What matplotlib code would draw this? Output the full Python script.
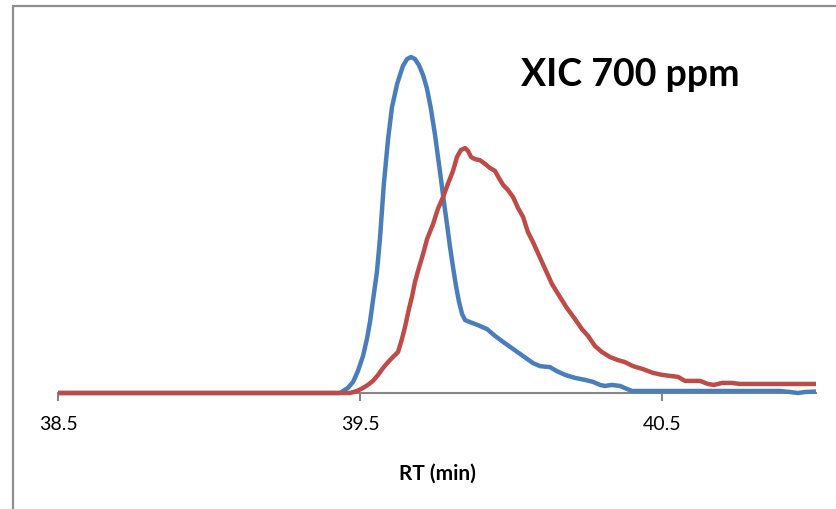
import matplotlib
matplotlib.use("Agg")
import matplotlib.pyplot as plt
from matplotlib.patches import Rectangle

# Extracted ion chromatograms (retention time in minutes, relative intensity)
rt_blue = [38.5, 39.434, 39.444, 39.460, 39.477, 39.493, 39.510, 39.523, 39.533, 39.546,
           39.556, 39.566, 39.579, 39.593, 39.606, 39.623, 39.642, 39.656, 39.669, 39.682,
           39.695, 39.709, 39.722, 39.735, 39.748, 39.765, 39.778, 39.788, 39.798, 39.808,
           39.818, 39.828, 39.838, 39.848, 39.864, 39.891, 39.921, 39.947, 39.974, 40.007,
           40.040, 40.073, 40.096, 40.129, 40.152, 40.179, 40.212, 40.245, 40.272, 40.295,
           40.311, 40.334, 40.361, 40.384, 40.401, 40.626, 40.891, 40.924, 40.950, 40.974,
           41.010]
int_blue = [0, 0, 0.6, 1.5, 3.3, 6.5, 11.0, 16.1, 21.1, 29.5,
            36.0, 45.8, 62.2, 75.6, 85.1, 92.0, 97.3, 99.4, 100, 99.4,
            97.6, 94.6, 90.5, 84.5, 77.1, 65.8, 56.8, 50.3, 43.5, 37.5,
            31.8, 27.1, 23.5, 21.7, 21.1, 20.2, 19.0, 17.0, 15.2, 13.1,
            11.0, 8.9, 8.0, 7.7, 6.5, 5.4, 4.5, 3.9, 3.3, 2.4,
            2.1, 2.4, 2.1, 1.2, 0.6, 0.6, 0.6, 0.3, 0, 0.3,
            0.45]

rt_red = [38.5, 39.467, 39.490, 39.510, 39.526, 39.543, 39.560, 39.576, 39.593, 39.609,
          39.626, 39.639, 39.649, 39.662, 39.672, 39.682, 39.692, 39.709, 39.722, 39.742,
          39.758, 39.775, 39.791, 39.808, 39.821, 39.834, 39.848, 39.858, 39.868, 39.881,
          39.897, 39.914, 39.930, 39.947, 39.960, 39.974, 39.990, 40.007, 40.023, 40.040,
          40.056, 40.073, 40.089, 40.113, 40.136, 40.162, 40.185, 40.212, 40.235, 40.255,
          40.278, 40.301, 40.328, 40.354, 40.377, 40.404, 40.437, 40.470, 40.500, 40.526,
          40.553, 40.576, 40.626, 40.652, 40.672, 40.699, 40.732, 40.758, 41.010]
int_red = [0, 0, 0.6, 1.5, 2.4, 3.6, 5.4, 7.4, 9.2, 10.7,
           12.2, 16.1, 19.6, 25.0, 28.6, 33.0, 36.3, 41.4, 45.8, 50.3,
           54.8, 58.3, 62.2, 66.1, 70.2, 72.3, 72.9, 72.0, 70.2, 69.6,
           69.3, 68.2, 67.0, 66.1, 64.0, 61.9, 60.4, 58.3, 55.1, 52.4,
           47.9, 44.9, 41.7, 36.9, 32.4, 28.6, 25.3, 22.0, 19.0, 17.0,
           14.0, 12.2, 10.7, 9.8, 9.2, 8.0, 7.1, 6.0, 5.4, 5.1,
           4.8, 3.6, 3.6, 2.7, 2.4, 3.0, 3.0, 2.7, 2.7]

x_ticks = [38.5, 39.5, 40.5]
x_tick_labels = ["38.5", "39.5", "40.5"]

W, H = 837, 510
fig = plt.figure(figsize=(W / 100, H / 100), dpi=100)

# outer chart frame (extends past the right and bottom edges)
fig.patches.append(Rectangle((13 / W, -0.2), 1.2, 1.2 - 7 / H, transform=fig.transFigure,
                             fill=False, edgecolor="#8f8f8f", linewidth=1.6))

top_px = 394 - 336 * 1.1
ax = fig.add_axes([58 / W, 1 - 394 / H, (816 - 58) / W, (394 - top_px) / H])
ax.set_xlim(38.5, 41.01)
ax.set_ylim(0, 110)

ax.plot(rt_blue, int_blue, color="#4a7ebb", linewidth=3.2, clip_on=False, zorder=3,
        solid_joinstyle="round", solid_capstyle="butt")
ax.plot(rt_red, int_red, color="#be4b48", linewidth=3.2, clip_on=False, zorder=4,
        solid_joinstyle="round", solid_capstyle="butt")

for s in ["top", "right", "left"]:
    ax.spines[s].set_visible(False)
ax.spines["bottom"].set_color("#868686")
ax.spines["bottom"].set_linewidth(1.5)
ax.set_yticks([])
ax.set_xticks(x_ticks)
ax.set_xticklabels(x_tick_labels, fontsize=14, family="Lato")
ax.tick_params(axis="x", direction="out", length=6, width=1.5, color="#868686", pad=10)

ax.set_xlabel("RT (min)", fontsize=15, family="Lato", fontweight="bold", labelpad=22)

fig.text(630 / W, 1 - 75 / H, "XIC 700 ppm", fontsize=27, family="Lato", fontweight="bold",
         ha="center", va="center")

fig.savefig("out.png", dpi=100)
